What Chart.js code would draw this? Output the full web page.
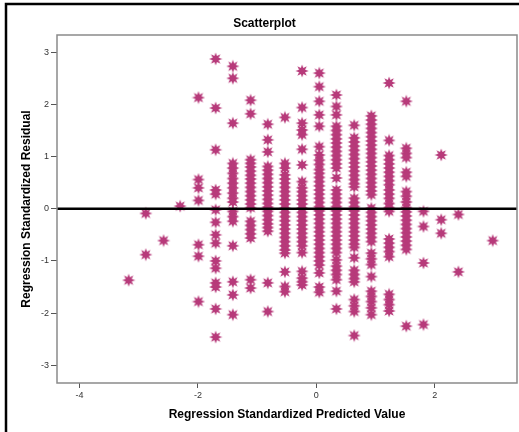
<!DOCTYPE html>
<html lang="en">
<head>
    <meta charset="UTF-8">
    <title>Scatterplot</title>
    <script src="https://cdn.jsdelivr.net/npm/chart.js"></script>
    <style>
        body {
            margin: 0;
            background-color: #ffffff;
        }
        #scatter {
            display: block;
        }
    </style>
</head>
<body>
    <canvas id="scatter" width="519" height="432"></canvas>

    <script>
        // Standardized predicted values (one column of points per value)
        const predicted = [-3.17, -2.88, -2.58, -2.30, -1.99, -1.70, -1.41, -1.11, -0.82, -0.53, -0.24,
                           0.05, 0.34, 0.64, 0.93, 1.23, 1.52, 1.81, 2.11, 2.40, 2.98];

        // Standardized residuals
        const residuals = [
            [-1.37],
            [-0.09, -0.88],
            [-0.61],
            [0.05],
            [2.13, 0.56, 0.40, 0.16, -0.69, -0.91, -1.78],
            [2.87, 1.93, 1.13, 0.36, 0.28, -0.02, -0.26, -0.50, -0.66, -1.00, -1.14, -1.42, -1.50, -1.92, -2.46],
            [2.73, 2.50, 1.64, 0.87, 0.78, 0.68, 0.58, 0.49, 0.40, 0.30, 0.20, 0.13, -0.05, -0.15, -0.24,
             -0.71, -1.40, -1.65, -2.03],
            [2.08, 1.82, 0.94, 0.87, 0.80, 0.72, 0.64, 0.57, 0.49, 0.41, 0.33, 0.25, 0.17, 0.09, 0.02,
             -0.24, -0.32, -0.40, -0.48, -0.56, -1.36, -1.52],
            [1.62, 1.32, 1.09, 0.81, 0.74, 0.66, 0.58, 0.50, 0.42, 0.34, 0.26, 0.18, 0.10, 0.03, -0.05,
             -0.13, -0.21, -0.29, -0.36, -0.43, -1.42, -1.97],
            [1.75, 0.87, 0.78, 0.65, 0.57, 0.49, 0.41, 0.33, 0.25, 0.17, 0.09, 0.01, -0.07, -0.15, -0.23,
             -0.31, -0.39, -0.47, -0.55, -0.63, -0.71, -0.79, -0.85, -1.21, -1.49, -1.59],
            [2.64, 1.94, 1.64, 1.51, 1.42, 1.14, 0.84, 0.52, 0.40, 0.33, 0.25, 0.17, 0.09, 0.01, -0.07,
             -0.15, -0.23, -0.31, -0.39, -0.47, -0.55, -0.63, -0.71, -0.84, -1.20, -1.33, -1.40, -1.46],
            [2.60, 2.34, 2.06, 1.80, 1.58, 1.19, 1.03, 0.93, 0.85, 0.75, 0.68, 0.60, 0.52, 0.44, 0.36,
             0.28, 0.20, 0.12, 0.04, -0.04, -0.12, -0.20, -0.28, -0.36, -0.44, -0.52, -0.60, -0.68,
             -0.76, -0.84, -0.92, -1.00, -1.08, -1.23, -1.50, -1.60],
            [2.18, 1.96, 1.80, 1.58, 1.50, 1.42, 1.34, 1.26, 1.18, 1.10, 1.02, 0.94, 0.86, 0.78, 0.59,
             0.36, 0.28, 0.20, 0.12, 0.04, -0.04, -0.12, -0.20, -0.28, -0.36, -0.44, -0.52, -0.60,
             -0.68, -0.76, -0.84, -0.98, -1.10, -1.18, -1.26, -1.36, -1.58, -1.92],
            [1.60, 1.36, 1.28, 1.20, 1.12, 1.04, 0.96, 0.88, 0.80, 0.72, 0.64, 0.56, 0.48, 0.42, 0.20,
             0.12, 0.04, -0.04, -0.12, -0.20, -0.28, -0.36, -0.44, -0.52, -0.60, -0.68, -0.74, -0.94,
             -1.18, -1.26, -1.34, -1.40, -1.74, -1.86, -1.97, -2.43],
            [1.78, 1.70, 1.62, 1.54, 1.46, 1.38, 1.30, 1.22, 1.14, 1.06, 0.98, 0.90, 0.82, 0.74, 0.66,
             0.58, 0.50, 0.42, 0.34, 0.27, 0.01, -0.07, -0.15, -0.23, -0.31, -0.39, -0.47, -0.55,
             -0.63, -0.85, -0.96, -1.07, -1.30, -1.58, -1.68, -1.78, -1.90, -2.03],
            [2.41, 1.31, 1.02, 0.94, 0.86, 0.78, 0.70, 0.62, 0.54, 0.46, 0.36, 0.28, 0.20, 0.10, 0.02,
             -0.05, -0.58, -0.66, -0.74, -0.82, -0.92, -1.64, -1.74, -1.84, -1.96],
            [2.06, 1.16, 1.06, 0.98, 0.70, 0.62, 0.33, 0.24, 0.13, 0.02, -0.06, -0.14, -0.22, -0.30,
             -0.38, -0.46, -0.54, -0.62, -0.70, -0.78, -2.25],
            [-0.05, -0.34, -1.04, -2.22],
            [1.03, -0.21, -0.47],
            [-0.11, -1.21],
            [-0.61]
        ];

        const xTicks = [-4, -2, 0, 2];
        const yTicks = [-3, -2, -1, 0, 1, 2, 3];

        const points = [];
        predicted.forEach((x, i) => {
            residuals[i].forEach(y => points.push({ x: x, y: y }));
        });

        // filled 8-point star like the SPSS marker
        function makeStar(color) {
            const c = document.createElement('canvas');
            c.width = 14;
            c.height = 14;
            const g = c.getContext('2d');
            g.fillStyle = color;
            g.beginPath();
            for (let i = 0; i < 16; i++) {
                const r = i % 2 === 0 ? 6.6 : 3.3;
                const a = i * Math.PI / 8 - Math.PI / 2;
                const px = 7 + r * Math.cos(a);
                const py = 7 + r * Math.sin(a);
                if (i === 0) g.moveTo(px, py); else g.lineTo(px, py);
            }
            g.closePath();
            g.fill();
            return c;
        }

        // frame, plot border and the zero reference line
        const decorations = {
            id: 'decorations',
            beforeDraw(chart) {
                const ctx = chart.ctx;
                ctx.save();
                ctx.fillStyle = '#ffffff';
                ctx.fillRect(0, 0, chart.width, chart.height);
                ctx.strokeStyle = '#000000';
                ctx.lineWidth = 2.5;
                ctx.beginPath();
                ctx.moveTo(6, chart.height + 5);
                ctx.lineTo(6, 4);
                ctx.lineTo(chart.width + 5, 4);
                ctx.stroke();
                ctx.restore();
            },
            afterDatasetsDraw(chart) {
                const ctx = chart.ctx;
                const a = chart.chartArea;
                const y0 = chart.scales.y.getPixelForValue(0);
                ctx.save();
                ctx.strokeStyle = '#000000';
                ctx.lineWidth = 2.5;
                ctx.beginPath();
                ctx.moveTo(a.left, y0);
                ctx.lineTo(a.right, y0);
                ctx.stroke();
                ctx.strokeStyle = '#8a8a8a';
                ctx.lineWidth = 1.5;
                ctx.strokeRect(a.left, a.top, a.right - a.left, a.bottom - a.top);
                ctx.restore();
            }
        };

        const tickFont = { family: 'Liberation Sans', size: 9 };
        const titleFont = { family: 'Liberation Sans', size: 12, weight: 'bold' };

        new Chart(document.getElementById('scatter').getContext('2d'), {
            type: 'scatter',
            data: {
                datasets: [{
                    data: points,
                    pointStyle: makeStar('#b73a7a'),
                    pointRadius: 6
                }]
            },
            options: {
                responsive: false,
                animation: false,
                events: [],
                layout: {
                    autoPadding: false,
                    padding: { left: 12, top: 0, right: 2, bottom: 0 }
                },
                plugins: {
                    legend: { display: false },
                    tooltip: { enabled: false },
                    title: {
                        display: true,
                        text: 'Scatterplot',
                        color: '#000000',
                        font: titleFont,
                        padding: { top: 16, bottom: 4.6 }
                    }
                },
                scales: {
                    x: {
                        type: 'linear',
                        min: -4.38,
                        max: 3.39,
                        afterBuildTicks: s => { s.ticks = xTicks.map(v => ({ value: v })); },
                        afterFit: s => { s.height = 49; },
                        ticks: { font: tickFont, color: '#333333', padding: 2 },
                        grid: { drawOnChartArea: false, drawTicks: true, tickLength: 5, color: '#555555' },
                        border: { display: false },
                        title: {
                            display: true,
                            text: 'Regression Standardized Predicted Value',
                            color: '#000000',
                            font: titleFont,
                            padding: { top: 0, bottom: 10 }
                        }
                    },
                    y: {
                        type: 'linear',
                        min: -3.34,
                        max: 3.33,
                        afterBuildTicks: s => { s.ticks = yTicks.map(v => ({ value: v })); },
                        afterFit: s => { s.width = 45; },
                        ticks: { font: tickFont, color: '#333333', padding: 2 },
                        grid: { drawOnChartArea: false, drawTicks: true, tickLength: 6, color: '#555555' },
                        border: { display: false },
                        title: {
                            display: true,
                            text: 'Regression Standardized Residual',
                            color: '#000000',
                            font: titleFont,
                            padding: { top: 7, bottom: 0 }
                        }
                    }
                }
            },
            plugins: [decorations]
        });
    </script>
</body>
</html>
